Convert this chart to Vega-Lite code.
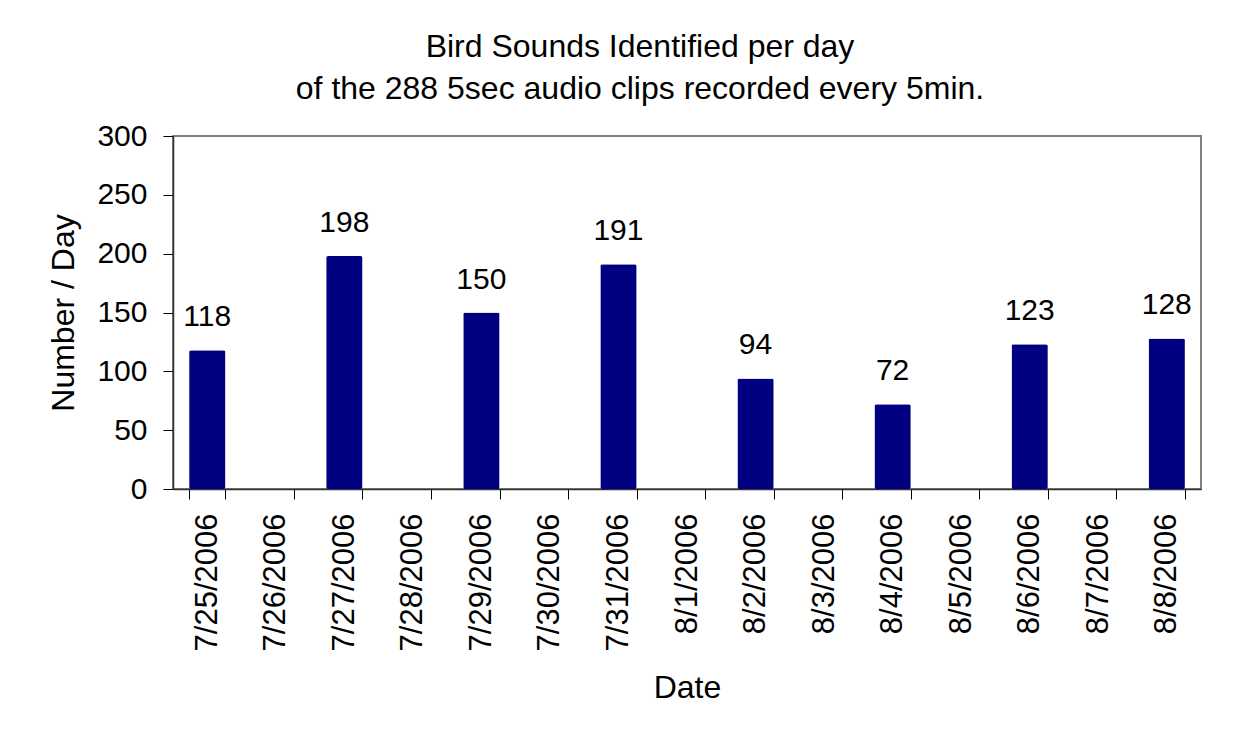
{
  "$schema": "https://vega.github.io/schema/vega-lite/v6.json",
  "autosize": "none",
  "width": 1028,
  "height": 353,
  "padding": {"left": 173, "top": 136, "right": 55, "bottom": 253},
  "background": "white",
  "title": {
    "text": ["Bird Sounds Identified per day", "of the 288 5sec audio clips recorded every 5min."],
    "font": "Liberation Sans",
    "fontSize": 32,
    "fontWeight": "normal",
    "color": "#000000",
    "lineHeight": 42,
    "anchor": "middle",
    "dx": -47,
    "offset": 15
  },
  "data": {
    "values": [
      {"date": "7/25/2006", "count": 118},
      {"date": "7/26/2006", "count": 0},
      {"date": "7/27/2006", "count": 198},
      {"date": "7/28/2006", "count": 0},
      {"date": "7/29/2006", "count": 150},
      {"date": "7/30/2006", "count": 0},
      {"date": "7/31/2006", "count": 191},
      {"date": "8/1/2006", "count": 0},
      {"date": "8/2/2006", "count": 94},
      {"date": "8/3/2006", "count": 0},
      {"date": "8/4/2006", "count": 72},
      {"date": "8/5/2006", "count": 0},
      {"date": "8/6/2006", "count": 123},
      {"date": "8/7/2006", "count": 0},
      {"date": "8/8/2006", "count": 128}
    ]
  },
  "encoding": {
    "x": {
      "field": "date",
      "type": "ordinal",
      "sort": null,
      "scale": {"paddingInner": 0.47, "paddingOuter": 0.235},
      "axis": {
        "title": "Date",
        "labelAngle": -90,
        "labelFontSize": 31,
        "labelFont": "Liberation Sans",
        "labelColor": "#000000",
        "labelPadding": 14,
        "tickSize": 10,
        "tickColor": "#000000",
        "tickBand": "extent",
        "domainColor": "#333333",
        "domainWidth": 1.5,
        "titleFont": "Liberation Sans",
        "titleFontSize": 32,
        "titleFontWeight": "normal",
        "titleColor": "#000000",
        "titlePadding": 22
      }
    },
    "y": {
      "field": "count",
      "type": "quantitative",
      "scale": {"domain": [0, 300], "nice": false},
      "axis": {
        "title": "Number / Day",
        "values": [0, 50, 100, 150, 200, 250, 300],
        "grid": false,
        "labelFontSize": 30,
        "labelFont": "Liberation Sans",
        "labelColor": "#000000",
        "labelPadding": 16,
        "tickSize": 10,
        "tickColor": "#000000",
        "domainColor": "#333333",
        "domainWidth": 1.5,
        "titleFont": "Liberation Sans",
        "titleFontSize": 32,
        "titleFontWeight": "normal",
        "titleColor": "#000000",
        "titlePadding": 16
      }
    }
  },
  "layer": [
    {
      "mark": {"type": "bar", "color": "#000080", "cornerRadius": 2}
    },
    {
      "transform": [{"filter": "datum.count > 0"}],
      "mark": {
        "type": "text",
        "font": "Liberation Sans",
        "fontSize": 30,
        "color": "#000000",
        "baseline": "alphabetic",
        "dy": -24
      },
      "encoding": {"text": {"field": "count", "type": "quantitative"}}
    }
  ],
  "config": {
    "view": {"stroke": "#808080", "strokeWidth": 2}
  }
}
